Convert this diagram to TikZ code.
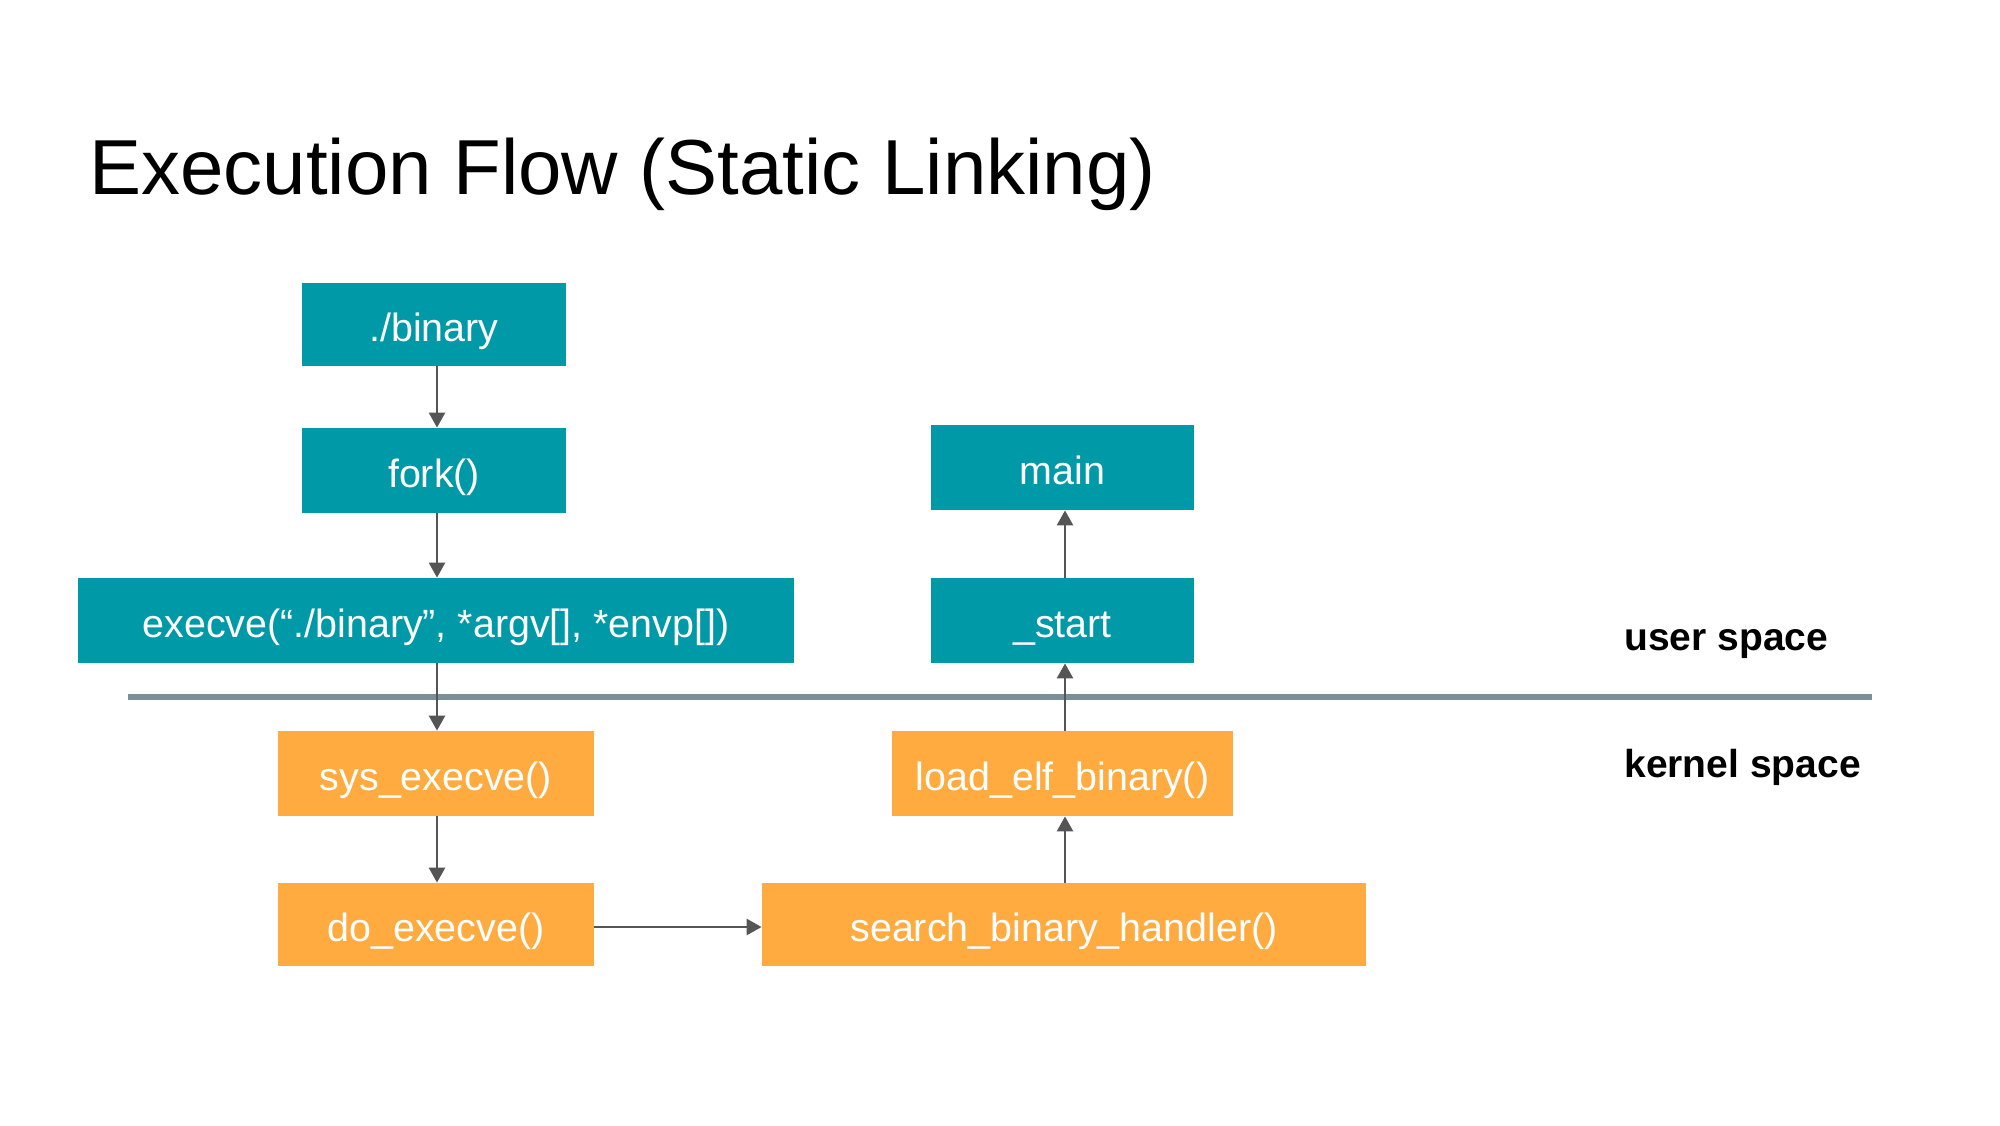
\documentclass[tikz,border=0pt]{standalone}
\usepackage{fontspec}
\setmainfont{Liberation Sans}
\usetikzlibrary{arrows.meta}

\definecolor{userclr}{RGB}{0,153,168}
\definecolor{kernclr}{RGB}{255,171,64}
\definecolor{sepclr}{RGB}{122,143,152}
\definecolor{arrclr}{RGB}{85,85,85}

\tikzset{
  flowbox/.style={rectangle, inner sep=0pt, text=white,
    text height=19.4pt, text depth=2pt,
    font=\fontsize{19.7}{23}\selectfont},
  userbox/.style={flowbox, fill=userclr},
  kernbox/.style={flowbox, fill=kernclr},
  flowarrow/.style={draw=arrclr, line width=1.3pt,
    -{Triangle[length=7.5pt,width=8pt]}},
  spacelabel/.style={anchor=west, inner sep=0pt,
    font=\bfseries\fontsize{19.5}{23}\selectfont},
}

% box helper: name, style, left, top, right, bottom, text
\newcommand{\flownode}[7]{%
  \node[#2, minimum width={(#5-#3)*0.5pt}, minimum height={(#6-#4)*0.5pt}]
    (#1) at ({(#3+#5)/2},{(#4+#6)/2}) {#7};}

\begin{document}
\begin{tikzpicture}[x=0.5pt,y=-0.5pt]
  \path[use as bounding box, fill=white] (0,0) rectangle (2000,1125);

  % title
  \node[anchor=base west, inner sep=0pt, font=\fontsize{39}{46}\selectfont]
    (title) at (89,194) {Execution Flow (Static Linking)};

  % user space / kernel space divider
  \coordinate (sepL) at (128,697);
  \coordinate (sepR) at (1872,697);
  \draw[sepclr, line width=2.6pt] (sepL) -- (sepR);

  \node[spacelabel] (ulabel) at (1624,644) {user space};
  \node[spacelabel] (klabel) at (1624,767) {kernel space};

  % user space calls
  \flownode{bin}{userbox}{302}{283}{566}{366}{./binary}
  \flownode{fork}{userbox}{302}{428}{566}{513}{fork()}
  \flownode{execve}{userbox}{78}{578}{794}{663}{execve(“./binary”, *argv[], *envp[])}
  \flownode{main}{userbox}{931}{425}{1194}{510}{main}
  \flownode{start}{userbox}{931}{578}{1194}{663}{\_start}

  % kernel space calls
  \flownode{sysexec}{kernbox}{278}{731}{594}{816}{sys\_execve()}
  \flownode{doexec}{kernbox}{278}{883}{594}{966}{do\_execve()}
  \flownode{loadelf}{kernbox}{892}{731}{1233}{816}{load\_elf\_binary()}
  \flownode{search}{kernbox}{762}{883}{1366}{966}{search\_binary\_handler()}

  % columns and row along which the calls run
  \coordinate (colL) at (437,0);
  \coordinate (colR) at (1065,0);
  \coordinate (rowK) at (0,927);

  % call flow
  \draw[flowarrow] (bin.south -| colL) -- (fork.north -| colL);
  \draw[flowarrow] (fork.south -| colL) -- (execve.north -| colL);
  \draw[flowarrow] (execve.south -| colL) -- (sysexec.north -| colL);
  \draw[flowarrow] (sysexec.south -| colL) -- (doexec.north -| colL);
  \draw[flowarrow] (doexec.east |- rowK) -- (search.west |- rowK);
  \draw[flowarrow] (search.north -| colR) -- (loadelf.south -| colR);
  \draw[flowarrow] (loadelf.north -| colR) -- (start.south -| colR);
  \draw[flowarrow] (start.north -| colR) -- (main.south -| colR);
\end{tikzpicture}
\end{document}
